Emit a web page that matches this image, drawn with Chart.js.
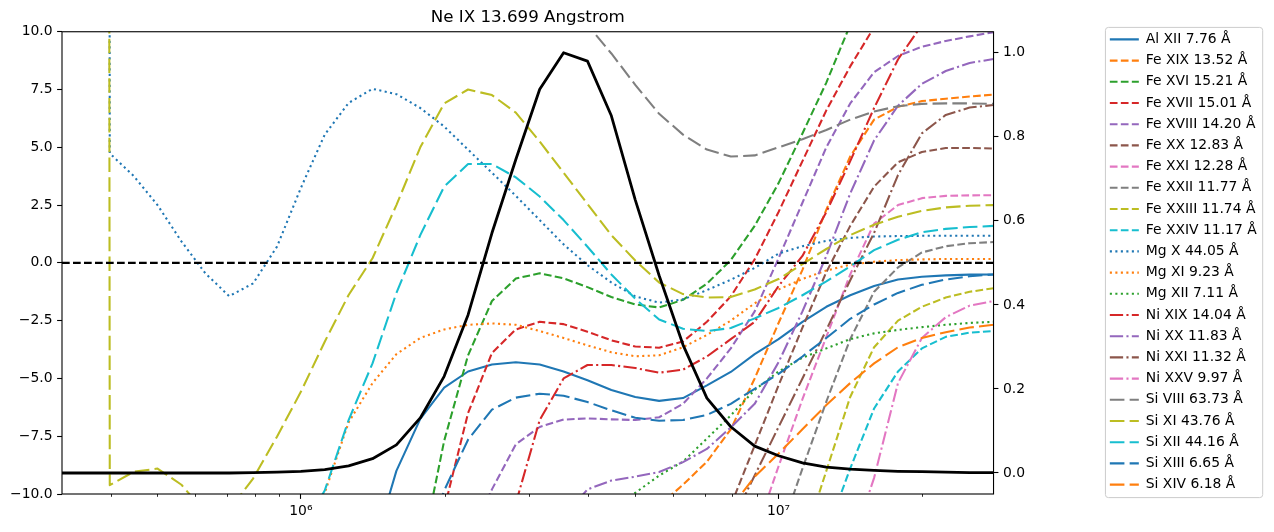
<!DOCTYPE html>
<html>
<head>
<meta charset="utf-8">
<script src="https://cdn.jsdelivr.net/npm/chart.js@4.4.1/dist/chart.umd.min.js"></script>
<style>
  body { margin: 0; background: #fff; }
  canvas { display: block; }
</style>
</head>
<body>
<canvas id="ratioChart" width="1274" height="532"></canvas>
<script>
// log10 temperature grid
var logT = [5.50, 5.55, 5.60, 5.65, 5.70, 5.75, 5.80, 5.85, 5.90, 5.95,
            6.00, 6.05, 6.10, 6.15, 6.20, 6.25, 6.30, 6.35, 6.40, 6.45,
            6.50, 6.55, 6.60, 6.65, 6.70, 6.75, 6.80, 6.85, 6.90, 6.95,
            7.00, 7.05, 7.10, 7.15, 7.20, 7.25, 7.30, 7.35, 7.40, 7.45];

// left axis values, one per line
var alXII = [null, null, null, null, null, null, null, null, null, null,
  null, null, null, -12.5, -9.0, -6.75, -5.4, -4.7, -4.4, -4.3,
  -4.4, -4.7, -5.08, -5.5, -5.8, -5.97, -5.85, -5.3, -4.72, -3.95,
  -3.3, -2.55, -1.9, -1.4, -1.0, -0.72, -0.6, -0.54, -0.51, -0.5];
var feXIX = [null, null, null, null, null, null, null, null, null, null,
  null, null, null, null, null, null, null, null, null, null,
  null, null, null, null, null, -10.5, -9.6, -8.6, -7.2, -5.0,
  -2.6, -0.3, 2.3, 4.6, 6.2, 6.75, 7.0, 7.1, 7.2, 7.28];
var feXVI = [null, null, null, null, null, null, null, null, null, null,
  null, null, null, null, null, -12.8, -7.7, -4.0, -1.65, -0.68,
  -0.45, -0.67, -1.05, -1.48, -1.8, -1.93, -1.6, -0.9, 0.12, 1.6,
  3.45, 5.6, 7.8, 10.3, null, null, null, null, null, null];
var feXVII = [null, null, null, null, null, null, null, null, null, null,
  null, null, null, null, null, null, -10.65, -6.5, -3.9, -2.88,
  -2.55, -2.65, -2.98, -3.35, -3.62, -3.67, -3.4, -2.55, -1.45, 0.15,
  2.2, 4.4, 6.6, 8.5, 10.2, null, null, null, null, null];
var feXVIII = [null, null, null, null, null, null, null, null, null, null,
  null, null, null, null, null, null, null, -12, -9.8, -7.85,
  -7.1, -6.78, -6.73, -6.77, -6.8, -6.68, -6.1, -5.0, -3.7, -2.1,
  0.2, 2.6, 5.0, 6.9, 8.25, 8.95, 9.35, 9.6, 9.8, 9.98];
var feXX = [null, null, null, null, null, null, null, null, null, null,
  null, null, null, null, null, null, null, null, null, null,
  null, null, null, null, null, null, null, null, -10.5, -7.9,
  -5.3, -2.8, -0.4, 1.6, 3.3, 4.35, 4.8, 4.97, 4.97, 4.95];
var feXXI = [null, null, null, null, null, null, null, null, null, null,
  null, null, null, null, null, null, null, null, null, null,
  null, null, null, null, null, null, null, null, null, -11.8,
  -8.8, -5.9, -3.2, -0.5, 1.7, 2.5, 2.8, 2.9, 2.92, 2.93];
var feXXII = [null, null, null, null, null, null, null, null, null, null,
  null, null, null, null, null, null, null, null, null, null,
  null, null, null, null, null, null, null, null, null, null,
  -11.9, -8.9, -6.0, -3.3, -1.25, -0.2, 0.45, 0.72, 0.85, 0.9];
var feXXIII = [null, null, null, null, null, null, null, null, null, null,
  null, null, null, null, null, null, null, null, null, null,
  null, null, null, null, null, null, null, null, null, null,
  null, -12.2, -9.0, -5.8, -3.65, -2.5, -1.9, -1.5, -1.25, -1.1];
var feXXIV = [null, null, null, null, null, null, null, null, null, null,
  null, null, null, null, null, null, null, null, null, null,
  null, null, null, null, null, null, null, null, null, null,
  null, null, -11.7, -8.9, -6.3, -4.7, -3.7, -3.2, -3.02, -2.95];
var mgX = [null, 1000, 4.74, 3.76, 2.5, 0.93, -0.45, -1.44, -0.89, 0.7,
  3.24, 5.55, 6.92, 7.53, 7.3, 6.7, 5.9, 4.9, 3.9, 2.9,
  1.85, 0.8, -0.1, -0.85, -1.45, -1.72, -1.58, -1.18, -0.73, -0.22,
  0.4, 0.72, 0.95, 1.08, 1.14, 1.16, 1.17, 1.17, 1.17, 1.17];
var mgXI = [null, null, null, null, null, null, null, null, null, null,
  -14, -9.95, -6.9, -5.2, -3.95, -3.25, -2.88, -2.68, -2.62, -2.68,
  -2.95, -3.25, -3.57, -3.87, -4.04, -4.0, -3.65, -3.12, -2.5, -1.75,
  -1.15, -0.7, -0.33, -0.08, 0.05, 0.12, 0.15, 0.17, 0.17, 0.17];
var mgXII = [null, null, null, null, null, null, null, null, null, null,
  null, null, null, null, null, null, null, null, null, null,
  null, null, null, -11, -9.95, -9.2, -8.6, -7.6, -6.6, -5.5,
  -4.7, -4.1, -3.7, -3.3, -3.05, -2.9, -2.78, -2.68, -2.6, -2.55];
var niXIX = [null, null, null, null, null, null, null, null, null, null,
  null, null, null, null, null, null, null, null, null, -10.4,
  -6.8, -5.0, -4.42, -4.42, -4.55, -4.75, -4.62, -4.05, -3.3, -2.55,
  -1.0, 0.3, 2.2, 4.4, 6.7, 8.8, 10.3, null, null, null];
var niXX = [null, null, null, null, null, null, null, null, null, null,
  null, null, null, null, null, null, null, null, null, null,
  null, -11.0, -9.8, -9.42, -9.25, -9.05, -8.62, -8.05, -7.12, -6.1,
  -4.3, -2.1, 0.3, 3.0, 5.3, 6.8, 7.75, 8.3, 8.65, 8.82];
var niXXI = [null, null, null, null, null, null, null, null, null, null,
  null, null, null, null, null, null, null, null, null, null,
  null, null, null, null, null, null, null, null, -11.3, -9.2,
  -7.1, -5.0, -2.9, -0.75, 1.3, 3.8, 5.6, 6.4, 6.72, 6.83];
var niXXV = [null, null, null, null, null, null, null, null, null, null,
  null, null, null, null, null, null, null, null, null, null,
  null, null, null, null, null, null, null, null, null, null,
  null, null, null, -12.4, -9.3, -5.2, -3.25, -2.35, -1.85, -1.65];
var siVIII = [null, null, null, null, null, null, null, null, null, null,
  null, null, null, null, null, null, null, null, null, null,
  null, 12, 10.3, 9.06, 7.7, 6.45, 5.55, 4.9, 4.6, 4.65,
  5.0, 5.35, 5.75, 6.2, 6.55, 6.78, 6.88, 6.9, 6.9, 6.88];
var siXI = [null, 1000, -9.62, -9.04, -8.9, -9.6, -10.8, -10.7, -9.33, -7.52,
  -5.58, -3.41, -1.39, 0.2, 2.5, 5.0, 6.9, 7.5, 7.26, 6.5,
  5.25, 3.9, 2.55, 1.2, 0.1, -0.85, -1.35, -1.5, -1.48, -1.15,
  -0.7, -0.05, 0.6, 1.2, 1.65, 2.0, 2.25, 2.4, 2.47, 2.5];
var siXII = [null, null, null, null, null, null, null, null, null, null,
  -11.6, -9.85, -6.8, -4.35, -1.3, 1.2, 3.3, 4.28, 4.28, 3.7,
  2.87, 1.85, 0.7, -0.5, -1.55, -2.45, -2.85, -2.95, -2.82, -2.4,
  -1.95, -1.4, -0.8, -0.15, 0.55, 1.0, 1.33, 1.47, 1.55, 1.6];
var siXIII = [null, null, null, null, null, null, null, null, null, null,
  null, null, null, null, null, -13, -9.85, -7.65, -6.35, -5.83,
  -5.66, -5.75, -6.02, -6.38, -6.7, -6.83, -6.8, -6.58, -6.1, -5.45,
  -4.8, -4.05, -3.25, -2.42, -1.8, -1.3, -0.95, -0.72, -0.58, -0.5];
var siXIV = [null, null, null, null, null, null, null, null, null, null,
  null, null, null, null, null, null, null, null, null, null,
  null, null, null, null, null, null, null, null, -10.6, -9.25,
  -8.25, -7.2, -6.15, -5.2, -4.35, -3.65, -3.25, -3.0, -2.8, -2.68];

// Ne IX contribution function, right axis
var neIX = [0, 0, 0, 0, 0, 0, 0, 0, 0.001, 0.002,
  0.004, 0.008, 0.017, 0.034, 0.067, 0.131, 0.23, 0.376, 0.571, 0.746,
  0.913, 1.0, 0.98, 0.85, 0.65, 0.47, 0.305, 0.178, 0.11, 0.064,
  0.041, 0.024, 0.014, 0.009, 0.006, 0.004, 0.003, 0.002, 0.001, 0.001];
var zeroLevel = 0;

var lineNames = ['Al XII 7.76 Å', 'Fe XIX 13.52 Å', 'Fe XVI 15.21 Å', 'Fe XVII 15.01 Å',
  'Fe XVIII 14.20 Å', 'Fe XX 12.83 Å', 'Fe XXI 12.28 Å', 'Fe XXII 11.77 Å',
  'Fe XXIII 11.74 Å', 'Fe XXIV 11.17 Å', 'Mg X 44.05 Å', 'Mg XI 9.23 Å',
  'Mg XII 7.11 Å', 'Ni XIX 14.04 Å', 'Ni XX 11.83 Å', 'Ni XXI 11.32 Å',
  'Ni XXV 9.97 Å', 'Si VIII 63.73 Å', 'Si XI 43.76 Å', 'Si XII 44.16 Å',
  'Si XIII 6.65 Å', 'Si XIV 6.18 Å'];
var lineValues = [alXII, feXIX, feXVI, feXVII, feXVIII, feXX, feXXI, feXXII, feXXIII, feXXIV,
  mgX, mgXI, mgXII, niXIX, niXX, niXXI, niXXV, siVIII, siXI, siXII, siXIII, siXIV];
var lineStyles = ['solid', 'dashed', 'dashed', 'dashed', 'dashed', 'dashed', 'dashed', 'dashed',
  'dashed', 'dashed', 'dotted', 'dotted', 'dotted', 'dashdot', 'dashdot', 'dashdot', 'dashdot',
  'long', 'long', 'long', 'long', 'long'];

var yTicks = [-10, -7.5, -5, -2.5, 0, 2.5, 5, 7.5, 10];
var y2Ticks = [0, 0.2, 0.4, 0.6, 0.8, 1.0];
var xTicks = [1e6, 1e7];
var xMinorTicks = [4e5, 5e5, 6e5, 7e5, 8e5, 9e5, 2e6, 3e6, 4e6, 5e6, 6e6, 7e6, 8e6, 9e6, 2e7];

var tab10 = ['#1f77b4', '#ff7f0e', '#2ca02c', '#d62728', '#9467bd',
             '#8c564b', '#e377c2', '#7f7f7f', '#bcbd22', '#17becf'];
var dashes = {
  solid: [],
  dashed: [7.7, 3.3],
  dotted: [2.1, 3.4],
  dashdot: [13.3, 3.3, 2.1, 3.3],
  long: [14.6, 5.2]
};

var temps = logT.map(function (t) { return Math.pow(10, t); });
var sup = {'0': '\u2070', '1': '\u00b9', '2': '\u00b2', '3': '\u00b3', '4': '\u2074',
           '5': '\u2075', '6': '\u2076', '7': '\u2077', '8': '\u2078', '9': '\u2079'};

Chart.defaults.font.family = 'DejaVu Sans';
Chart.defaults.font.size = 13.9;
Chart.defaults.color = '#000';

var datasets = lineNames.map(function (name, i) {
  return {
    label: name,
    data: lineValues[i],
    borderColor: tab10[i % 10],
    backgroundColor: tab10[i % 10],
    borderWidth: 2.08,
    borderDash: dashes[lineStyles[i]],
    borderCapStyle: 'butt',
    borderJoinStyle: 'round',
    pointRadius: 0,
    fill: false,
    yAxisID: 'y',
    order: 2 + (lineNames.length - 1 - i)
  };
});
datasets.push({
  label: 'zero',
  data: temps.map(function () { return zeroLevel; }),
  borderColor: '#000',
  borderWidth: 2.08,
  borderDash: dashes.dashed,
  pointRadius: 0,
  fill: false,
  yAxisID: 'y',
  order: 1
});
datasets.push({
  label: 'Ne IX',
  data: neIX,
  borderColor: '#000',
  borderWidth: 2.78,
  borderJoinStyle: 'round',
  pointRadius: 0,
  fill: false,
  yAxisID: 'y2',
  order: 0
});

function tickOpts(extra) {
  var o = {
    grid: { drawOnChartArea: false, drawTicks: true, tickLength: 4.9, tickWidth: 1.1, tickColor: '#000' },
    border: { display: false },
    ticks: { color: '#000', padding: 4.5, autoSkip: false, maxRotation: 0 }
  };
  for (var k in extra) o[k] = extra[k];
  return o;
}

var framePlugin = {
  id: 'frame',
  beforeDraw: function (chart) {
    var boxes = chart.legend && chart.legend.legendHitBoxes;
    if (!boxes || !boxes.length) return;
    var ctx = chart.ctx;
    var first = boxes[0], last = boxes[boxes.length - 1];
    var left = first.left - 4.4, right = 0;
    boxes.forEach(function (b) { right = Math.max(right, b.left + b.width); });
    right += 6;
    var top = first.top + first.height / 2 - 12;
    var bottom = last.top + last.height / 2 + 13;
    var r = 3;
    ctx.save();
    ctx.beginPath();
    ctx.moveTo(left + r, top);
    ctx.arcTo(right, top, right, bottom, r);
    ctx.arcTo(right, bottom, left, bottom, r);
    ctx.arcTo(left, bottom, left, top, r);
    ctx.arcTo(left, top, right, top, r);
    ctx.closePath();
    ctx.fillStyle = 'rgba(255,255,255,0.8)';
    ctx.fill();
    ctx.strokeStyle = '#cccccc';
    ctx.lineWidth = 1;
    ctx.stroke();
    ctx.restore();
  },
  afterDatasetsDraw: function (chart) {
    var ctx = chart.ctx, a = chart.chartArea, xs = chart.scales.x;
    ctx.save();
    ctx.strokeStyle = '#000';
    ctx.lineWidth = 0.83;
    xMinorTicks.forEach(function (v) {
      var px = Math.round(xs.getPixelForValue(v)) + 0.5;
      ctx.beginPath();
      ctx.moveTo(px, a.bottom);
      ctx.lineTo(px, a.bottom + 2.8);
      ctx.stroke();
    });
    ctx.lineWidth = 1.1;
    ctx.strokeRect(a.left, a.top, a.right - a.left, a.bottom - a.top);
    ctx.restore();
  }
};

var ctx = document.getElementById('ratioChart');
var chart = new Chart(ctx, {
  type: 'line',
  data: { labels: temps, datasets: datasets },
  options: {
    responsive: false,
    animation: false,
    devicePixelRatio: 1,
    events: [],
    layout: { padding: { left: 0, right: 7.3, top: 0, bottom: 8 } },
    plugins: {
      title: {
        display: true,
        text: 'Ne IX 13.699 Angstrom',
        fullSize: false,
        color: '#000',
        font: { family: 'DejaVu Sans', size: 16.7, weight: 'normal' },
        padding: { top: 7.5, bottom: 4.2 }
      },
      legend: {
        position: 'right',
        labels: {
          usePointStyle: true,
          pointStyleWidth: 29,
          padding: 7.3,
          color: '#000',
          font: { family: 'DejaVu Sans', size: 13.9 },
          generateLabels: function (chart) {
            return chart.data.datasets.slice(0, lineNames.length).map(function (ds, i) {
              return {
                text: ds.label,
                fillStyle: ds.borderColor,
                strokeStyle: ds.borderColor,
                lineWidth: ds.borderWidth,
                lineDash: ds.borderDash,
                lineCap: 'butt',
                pointStyle: 'line',
                hidden: false,
                fontColor: '#000',
                datasetIndex: i
              };
            });
          }
        }
      },
      tooltip: { enabled: false }
    },
    scales: {
      x: tickOpts({
        type: 'logarithmic',
        min: Math.pow(10, logT[0]),
        max: Math.pow(10, logT[logT.length - 1]),
        afterBuildTicks: function (s) { s.ticks = xTicks.map(function (v) { return { value: v, major: true }; }); },
        afterFit: function (s) { s.height = 30; },
        ticks: {
          color: '#000', padding: 4, autoSkip: false, maxRotation: 0,
          callback: function (v) {
            var e = String(Math.round(Math.log10(v)));
            return '10' + e.split('').map(function (d) { return sup[d]; }).join('');
          }
        }
      }),
      y: tickOpts({
        position: 'left',
        min: -10,
        max: 10,
        afterBuildTicks: function (s) { s.ticks = yTicks.map(function (v) { return { value: v }; }); },
        afterFit: function (s) { s.width = 62; },
        ticks: {
          color: '#000', padding: 4.5, autoSkip: false,
          callback: function (v) { return v.toFixed(1).replace('-', '\u2212'); }
        }
      }),
      y2: tickOpts({
        position: 'right',
        min: -0.05,
        max: 1.05,
        afterBuildTicks: function (s) { s.ticks = y2Ticks.map(function (v) { return { value: v }; }); },
        afterFit: function (s) { s.width = 109; },
        ticks: {
          color: '#000', padding: 4.5, autoSkip: false,
          callback: function (v) { return v.toFixed(1); }
        }
      })
    }
  },
  plugins: [framePlugin]
});
</script>
</body>
</html>
